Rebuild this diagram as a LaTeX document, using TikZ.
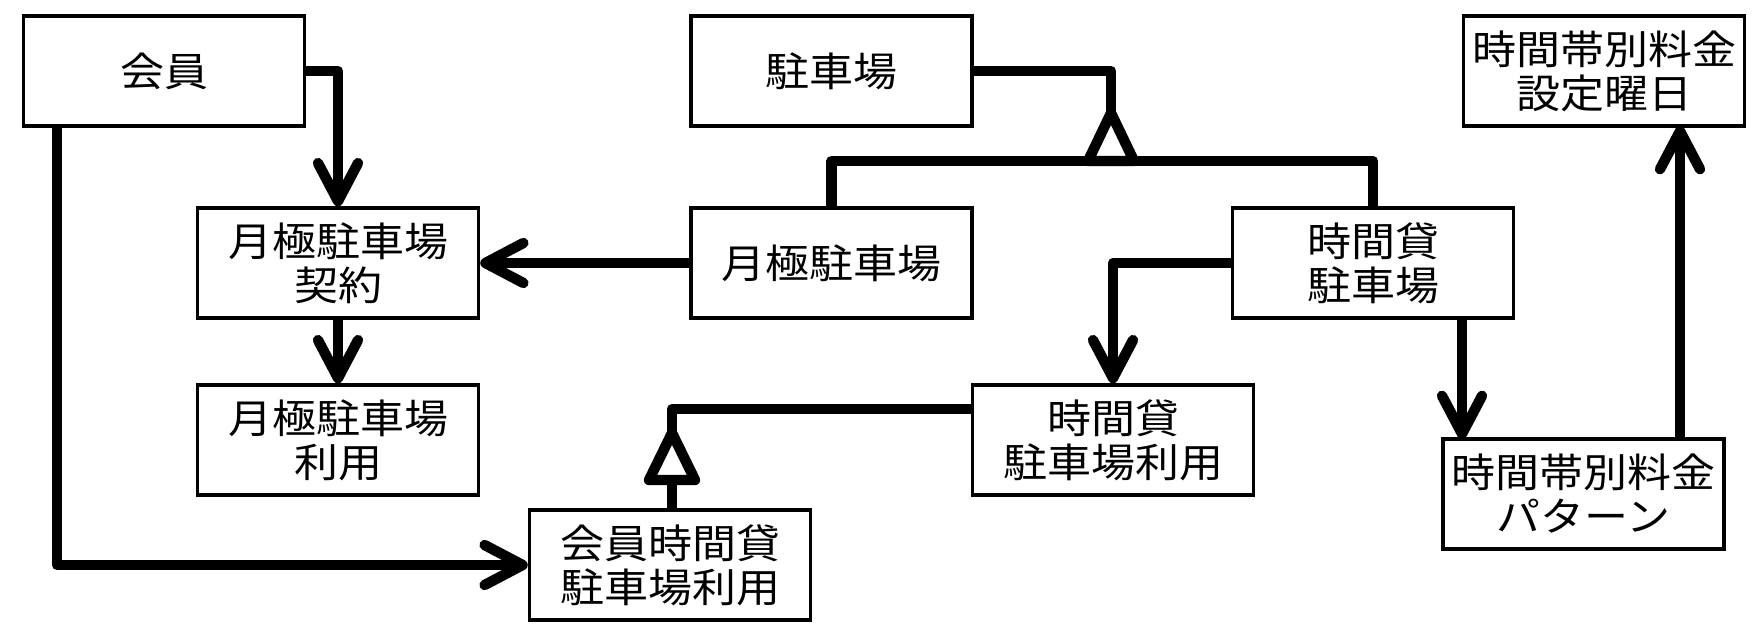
\documentclass[tikz,border=0pt]{standalone}
\usepackage{fontspec}
\newfontfamily\jp[FakeStretch=1.1]{Noto Sans CJK JP}
\usetikzlibrary{arrows.meta}
\tikzset{
  box/.style={draw, line width=1.7pt, rectangle, inner sep=0pt, align=center,
    minimum width=140.5pt, minimum height=55pt,
    font=\jp\fontsize{20pt}{22pt}\selectfont},
  conn/.style={line width=5.2pt, line join=round},
  arr/.style={conn, -{Straight Barb[length=19pt,width=20pt,round]}},
  gen/.style={line width=5.2pt, line join=round, fill=white},
}
\begin{document}
\begin{tikzpicture}[x=0.5pt,y=-0.5pt]
\useasboundingbox (0,0) rectangle (1754,636);
% boxes
\node[box] (kaiin) at (164,71) {会員};
\node[box] (chusha) at (831.5,71) {駐車場};
\node[box] (settei) at (1604,71) {時間帯別料金\\設定曜日};
\node[box] (keiyaku) at (338,263) {月極駐車場\\契約};
\node[box] (getsu) at (831.5,263) {月極駐車場};
\node[box] (jikan) at (1373,263) {時間貸\\駐車場};
\node[box] (getsuriyo) at (338,440) {月極駐車場\\利用};
\node[box] (jikanriyo) at (1113,440) {時間貸\\駐車場利用};
\node[box] (pattern) at (1583.5,494) {時間帯別料金\\パターン};
\node[box] (kaiinjikan) at (670,565) {会員時間貸\\駐車場利用};
% coordinates
\coordinate (k1) at (57,126);
\coordinate (t1apex) at (1111,113);
\coordinate (t1l) at (1088,161);
\coordinate (t1r) at (1134,161);
\coordinate (h1l) at (831.5,161);
\coordinate (h1r) at (1373,161);
\coordinate (r1) at (971,409);
\coordinate (t2apex) at (672,433);
\coordinate (t2l) at (649,480);
\coordinate (t2r) at (695,480);
\coordinate (c1) at (672,510);
\coordinate (p1) at (1462,318);
\coordinate (p2) at (1462,439);
\coordinate (q1) at (1680,439);
\coordinate (q2) at (1680,126);
% connectors
\draw[arr] (kaiin.east) -| (keiyaku.north);
\draw[arr] (getsu.west) -- (keiyaku.east);
\draw[arr] (keiyaku.south) -- (getsuriyo.north);
\draw[arr] (k1) |- (kaiinjikan.west);
\draw[conn] (chusha.east) -| (t1apex);
\draw[conn] (getsu.north) -- (h1l) -- (h1r) -- (jikan.north);
\draw[gen] (t1apex) -- (t1l) -- (t1r) -- cycle;
\draw[arr] (jikan.west) -| (jikanriyo.north);
\draw[conn] (r1) -| (t2apex);
\draw[conn] (t2l -| c1) -- (c1);
\draw[gen] (t2apex) -- (t2l) -- (t2r) -- cycle;
\draw[arr] (p1) -- (p2);
\draw[arr] (q1) -- (q2);
\end{tikzpicture}
\end{document}
